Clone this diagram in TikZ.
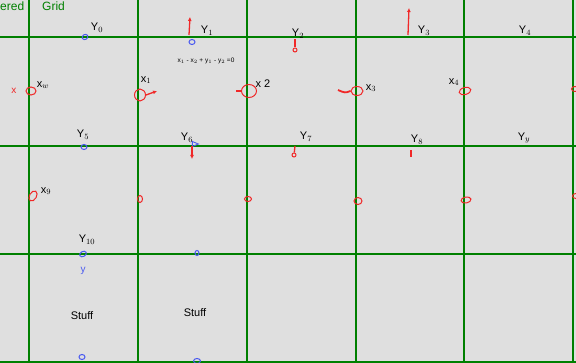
\documentclass[tikz,border=0pt]{standalone}
\usepackage{fontspec}
\setmainfont{Liberation Sans}
\usetikzlibrary{shapes.geometric,arrows.meta}
\definecolor{bg}{HTML}{DFDFDF}
\definecolor{gridgreen}{HTML}{008000}
\definecolor{ink}{HTML}{F02828}
\definecolor{blueink}{HTML}{4A5AF0}
\begin{document}
\begin{tikzpicture}[x=1pt,y=-1pt,
  gridline/.style={draw=gridgreen,line width=2pt},
  lab/.style={font=\fontsize{11}{11}\selectfont,inner sep=0pt,text=black},
  small/.style={font=\fontsize{6.5}{6.5}\selectfont,inner sep=0pt,text=black},
  rc/.style={draw=ink,ellipse,line width=1pt,inner sep=0pt,minimum width=10pt,minimum height=8pt},
  rcs/.style={draw=ink,ellipse,line width=1pt,inner sep=0pt,minimum width=7pt,minimum height=5pt},
  bc/.style={draw=blueink,ellipse,line width=1pt,inner sep=0pt,minimum width=6pt,minimum height=5pt},
  rarrow/.style={draw=ink,line width=1.3pt,-{Latex[length=4pt,width=4pt]}},
  rline/.style={draw=ink,line width=1.3pt}]
\fill[bg] (0,0) rectangle (576,363);
\useasboundingbox (0,0) rectangle (576,363);
% grid
\foreach \x in {29,138,247,356,464,573} \draw[gridline] (\x,0) -- (\x,363);
\foreach \y in {37,146,254,362} \draw[gridline] (0,\y) -- (576,\y);
% title
\node[text=gridgreen,font=\fontsize{12}{12}\selectfont,anchor=west,inner sep=0pt] (title) at (0,6) {ered\hspace{18pt}Grid};
% row 1 labels
\node[lab] (ly0) at (97,28) {Y$_0$};
\node[bc,rotate=30] (y0) at (85,37) {};
\node[lab] (ly1) at (207,31) {Y$_1$};
\node[bc] (y1) at (192,42) {};
\coordinate (y1a) at (189,35); \coordinate (y1b) at (190,17);
\draw[rarrow] (y1a) -- (y1b);
\node[lab] (ly2) at (298,34) {Y$_2$};
\coordinate (y2a) at (295,39); \node[rcs,minimum width=4pt,minimum height=4pt] (y2) at (295,50) {};
\draw[rline] (y2a) -- (y2);
\node[lab] (ly3) at (424,31) {Y$_3$};
\coordinate (y3a) at (408,35); \coordinate (y3b) at (409,8);
\draw[rarrow] (y3a) -- (y3b);
\node[lab] (ly4) at (525,31) {Y$_4$};
\node[small] (eq) at (206,61) {x$_1$ - x$_2$ + y$_1$ - y$_2$ =0};
% x row 1
\node[text=ink,font=\fontsize{10}{10}\selectfont,inner sep=0pt] (xx) at (14,91) {x};
\node[rc] (xw) at (31,91) {};
\node[lab] (lxw) at (43,85) {x$_w$};
\node[rc,minimum width=11pt,minimum height=12pt] (x1) at (140,95) {};
\node[lab] (lx1) at (146,80) {x$_1$};
\coordinate (x1b) at (157,91);
\draw[rarrow] (x1.east) -- (x1b);
\node[rc,minimum width=15pt,minimum height=13pt] (x2) at (249,91) {};
\node[lab] (lx2) at (263,84) {x 2};
\coordinate (x2b) at (236,91);
\draw[rline,line width=1.8pt] (x2.west) -- (x2b);
\node[rc,minimum width=12pt,minimum height=9pt] (x3) at (357,91) {};
\node[lab] (lx3) at (371,88) {x$_3$};
\coordinate (x3b) at (338,90);
\draw[rline,line width=1.8pt] (x3.west) .. controls (345,93) .. (x3b);
\node[rc,rotate=15,minimum width=12pt,minimum height=7pt] (x4) at (465,91) {};
\node[lab] (lx4) at (454,82) {x$_4$};
\node[rcs] (x5) at (575,89) {};
% row 2
\node[lab] (ly5) at (83,135) {Y$_5$};
\node[bc] (y5) at (84,147) {};
\node[lab] (ly6) at (187,138) {Y$_6$};
\node[draw=blueink,isosceles triangle,shape border rotate=0,line width=0.9pt,inner sep=0pt,minimum width=5pt,minimum height=5pt] (y6) at (194,144) {};
\coordinate (y6a) at (192,146); \coordinate (y6b) at (192,159);
\draw[rarrow] (y6a) -- (y6b);
\node[lab] (ly7) at (306,137) {Y$_7$};
\coordinate (y7a) at (295,146); \node[rcs,minimum width=4pt,minimum height=4pt] (y7) at (294,155) {};
\draw[rline] (y7a) -- (y7);
\node[lab] (ly8) at (417,140) {Y$_8$};
\coordinate (y8a) at (411,150); \coordinate (y8b) at (411,157);
\draw[rline,line width=1.8pt] (y8a) -- (y8b);
\node[lab] (ly9) at (524,138) {Y$_y$};
% x row 2
\node[rc,rotate=60,minimum width=11pt,minimum height=7pt] (x9) at (33,196) {};
\node[lab] (lx9) at (46,191) {x$_9$};
\node[rcs,minimum width=5pt,minimum height=7pt] (x10) at (140,199) {};
\node[rcs] (x11) at (248,199) {};
\node[rcs,minimum width=8pt,minimum height=7pt] (x12) at (358,201) {};
\node[rcs,rotate=10,minimum width=10pt,minimum height=6pt] (x13) at (466,200) {};
\node[rcs] (x14) at (576,196) {};
% row 3
\node[lab] (ly10) at (87,240) {Y$_{10}$};
\node[bc,rotate=30,minimum width=7pt] (y10) at (83,254) {};
\node[text=blueink,font=\fontsize{10}{10}\selectfont,inner sep=0pt] (ly) at (83,271) {y};
\node[bc,minimum width=4pt,minimum height=5pt] (y11) at (197,253) {};
\node[lab] (s1) at (82,316) {Stuff};
\node[lab] (s2) at (195,313) {Stuff};
\node[bc] (y15) at (82,357) {};
\node[bc,minimum width=7pt] (y16) at (197,361) {};
\end{tikzpicture}
\end{document}
